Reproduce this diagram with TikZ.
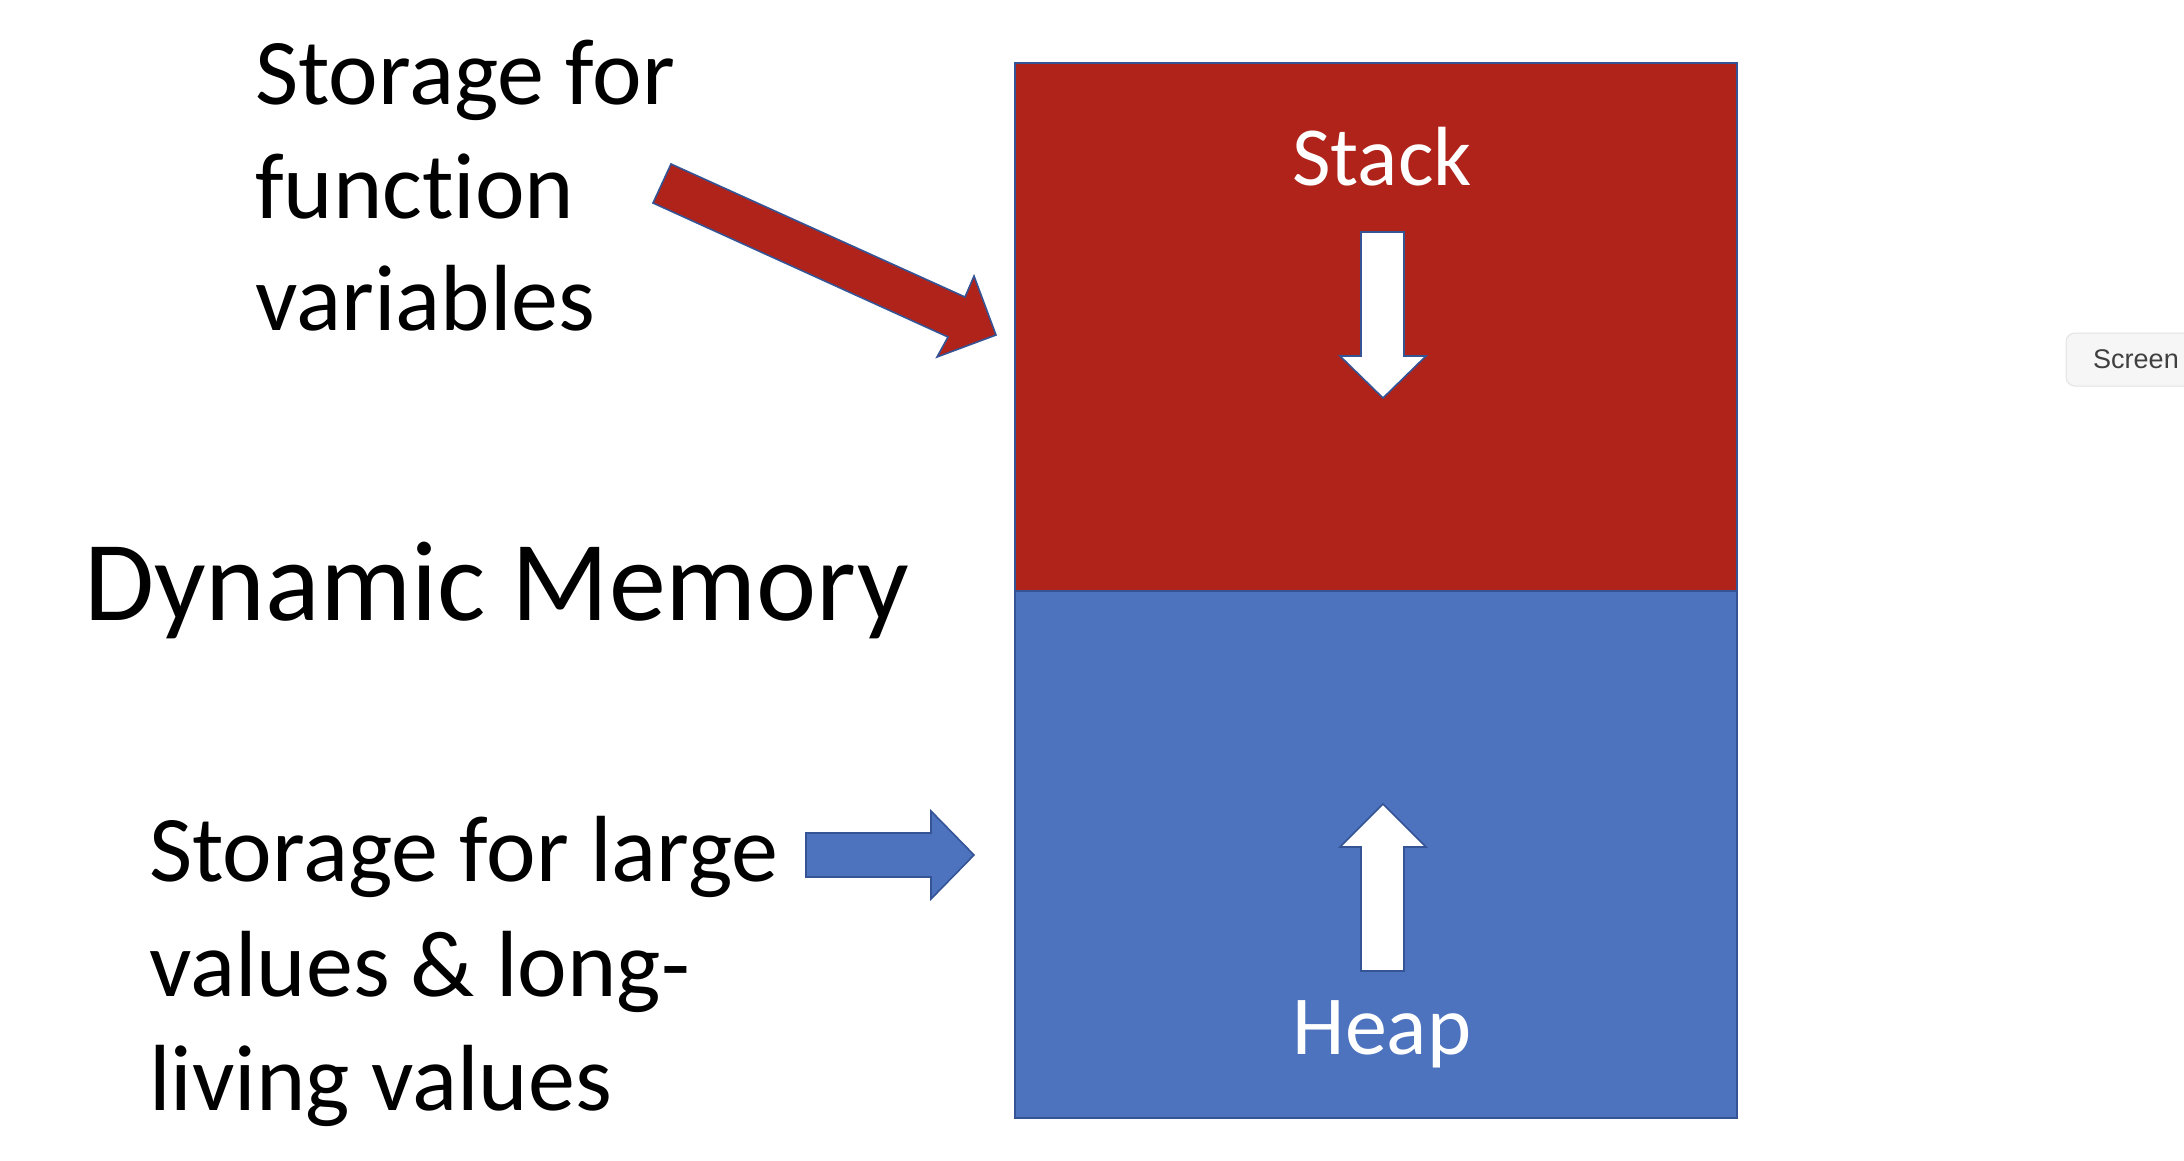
\documentclass[tikz,border=0pt]{standalone}
\usepackage{fontspec}
\setmainfont{Carlito}[Ligatures=NoCommon]
\newfontfamily\uifont{Liberation Sans}
\definecolor{stackred}{RGB}{175,35,26}
\definecolor{heapblue}{RGB}{78,115,190}
\definecolor{edgeblue}{RGB}{52,84,150}
\tikzset{
  label/.style={inner sep=0pt, anchor=base west, text=black, font=\fontsize{94}{113}\selectfont},
  big/.style={inner sep=0pt, anchor=base west, text=black, font=\fontsize{114}{137}\selectfont},
  inlabel/.style={inner sep=0pt, anchor=base, text=white, font=\fontsize{84}{100}\selectfont},
  region/.style={draw=edgeblue, line width=2.5pt},
  blockarrow/.style={draw=edgeblue, line width=1.6pt, line join=miter},
}
\begin{document}
\begin{tikzpicture}[x=1pt,y=-1pt]
\useasboundingbox (0,0) rectangle (2184,1160);
\fill[white] (0,0) rectangle (2184,1160);

% memory regions
\draw[region, fill=stackred] (1015,63) rectangle (1737,591);
\draw[region, fill=heapblue] (1015,591) rectangle (1737,1118);

% labels inside
\node[inlabel] (stack) at (1382,185) {Stack};
\node[inlabel] (heap) at (1382,1054) {Heap};

% white growth arrows
\draw[blockarrow, fill=white] (1361,232) -- (1404,232) -- (1404,356) -- (1426,356)
  -- (1383,398) -- (1340,356) -- (1361,356) -- cycle;
\draw[blockarrow, fill=white] (1361,971) -- (1404,971) -- (1404,847) -- (1426,847)
  -- (1383,804) -- (1340,847) -- (1361,847) -- cycle;

% red pointer arrow
\draw[blockarrow, fill=stackred] (671,164) -- (965,297) -- (974,276) -- (996,335)
  -- (937,357) -- (948,337) -- (653,203) -- cycle;

% blue pointer arrow
\draw[blockarrow, fill=heapblue] (806,833) -- (931,833) -- (931,811) -- (974,855)
  -- (931,899) -- (931,877) -- (806,877) -- cycle;

% text
\node[label] (t1a) at (255,104) {Storage for};
\node[label] (t1b) at (255,218) {function};
\node[label] (t1c) at (255,330) {variables};

\node[big] (dyn) at (84,620) {Dynamic Memory};

\node[label] (t2a) at (149,881) {Storage for large};
\node[label] (t2b) at (149,996) {values \& long-};
\node[label] (t2c) at (149,1110) {living values};

% partial screen button at the right edge
\begin{scope}
\clip (0,0) rectangle (2184,1160);
\draw[rounded corners=9pt, fill=gray!7, draw=gray!22, line width=1pt] (2066,333) rectangle (2230,386);
\node[inner sep=0pt, anchor=base west, text=black!75, font=\uifont\fontsize{27}{32}\selectfont] (screen) at (2093,368) {Screen};
\end{scope}
\end{tikzpicture}
\end{document}
